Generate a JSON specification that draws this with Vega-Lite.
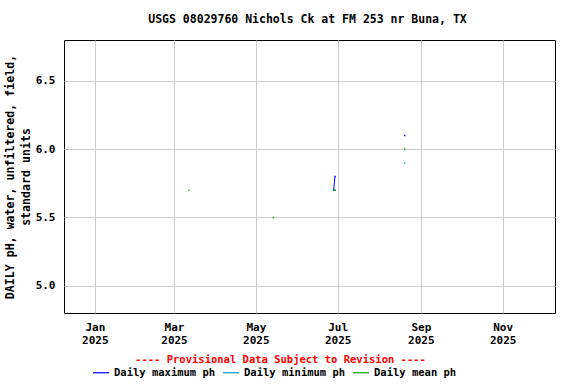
{
  "$schema": "https://vega.github.io/schema/vega-lite/v6.json",
  "autosize": "none",
  "width": 491,
  "height": 273,
  "padding": {"left": 64, "top": 40, "right": 21, "bottom": 71},
  "background": "white",
  "title": {
    "text": "USGS 08029760 Nichols Ck at FM 253 nr Buna, TX",
    "font": "DejaVu Sans Mono",
    "fontSize": 11.5,
    "fontWeight": "bold",
    "anchor": "middle",
    "offset": 15,
    "dx": -2,
    "color": "black"
  },
  "config": {
    "view": {"stroke": "black", "strokeWidth": 1},
    "font": "DejaVu Sans Mono"
  },
  "data": {
    "values": [
      {"date": "2025-06-28T00:00:00", "series": "Daily maximum ph", "run": "c", "value": 5.70},
      {"date": "2025-06-29T00:00:00", "series": "Daily maximum ph", "run": "c", "value": 5.80},
      {"date": "2025-08-20T00:00:00", "series": "Daily maximum ph", "run": "d", "value": 6.10},
      {"date": "2025-06-28T00:00:00", "series": "Daily minimum ph", "run": "c", "value": 5.70},
      {"date": "2025-06-29T00:00:00", "series": "Daily minimum ph", "run": "c", "value": 5.70},
      {"date": "2025-08-20T00:00:00", "series": "Daily minimum ph", "run": "d", "value": 5.90},
      {"date": "2025-03-12T00:00:00", "series": "Daily mean ph", "run": "a", "value": 5.70},
      {"date": "2025-05-14T00:00:00", "series": "Daily mean ph", "run": "b", "value": 5.50},
      {"date": "2025-06-28T00:00:00", "series": "Daily mean ph", "run": "c", "value": 5.70},
      {"date": "2025-06-29T00:00:00", "series": "Daily mean ph", "run": "c", "value": 5.70},
      {"date": "2025-08-20T00:00:00", "series": "Daily mean ph", "run": "d", "value": 6.00}
    ]
  },
  "encoding": {
    "x": {
      "field": "date",
      "type": "temporal",
      "scale": {
        "domain": [
          {"year": 2024, "month": 12, "date": 9},
          {"year": 2025, "month": 12, "date": 10}
        ]
      },
      "axis": {
        "values": [
          {"year": 2025, "month": 1, "date": 1},
          {"year": 2025, "month": 3, "date": 1},
          {"year": 2025, "month": 5, "date": 1},
          {"year": 2025, "month": 7, "date": 1},
          {"year": 2025, "month": 9, "date": 1},
          {"year": 2025, "month": 11, "date": 1}
        ],
        "labelExpr": "[timeFormat(datum.value, '%b'), timeFormat(datum.value, '%Y')]",
        "labelFont": "DejaVu Sans Mono",
        "labelFontSize": 11,
        "labelFontWeight": "bold",
        "labelColor": "black",
        "labelLineHeight": 13.7,
        "labelPadding": 8,
        "labelBaseline": "top",
        "ticks": false,
        "domain": false,
        "grid": true,
        "gridColor": "#cccccc",
        "gridWidth": 1,
        "title": "---- Provisional Data Subject to Revision ----",
        "titleFont": "DejaVu Sans Mono",
        "titleFontSize": 10.5,
        "titleFontWeight": "bold",
        "titleColor": "#ff0000",
        "titleX": 216,
        "titleY": 46,
        "titleAlign": "center",
        "titleBaseline": "middle"
      }
    },
    "y": {
      "field": "value",
      "type": "quantitative",
      "scale": {"domain": [4.8, 6.8], "nice": false, "zero": false},
      "axis": {
        "values": [5.0, 5.5, 6.0, 6.5],
        "format": ".1f",
        "ticks": false,
        "domain": false,
        "grid": true,
        "gridColor": "#cccccc",
        "gridWidth": 1,
        "labelFont": "DejaVu Sans Mono",
        "labelFontSize": 11,
        "labelFontWeight": "bold",
        "labelColor": "black",
        "labelPadding": 9,
        "title": ["DAILY pH, water, unfiltered, field,", "standard units"],
        "titleFont": "DejaVu Sans Mono",
        "titleFontSize": 11.6,
        "titleFontWeight": "bold",
        "titleColor": "black",
        "titlePadding": 4,
        "titleLineHeight": 16
      }
    },
    "detail": {"field": "run", "type": "nominal"}
  },
  "layer": [
    {
      "mark": {"type": "line", "strokeWidth": 1},
      "encoding": {
        "color": {
          "field": "series",
          "type": "nominal",
          "scale": {
            "domain": ["Daily maximum ph", "Daily minimum ph", "Daily mean ph"],
            "range": ["#0000ff", "#0096e0", "#00aa00"]
          },
          "legend": {
            "orient": "none",
            "legendX": 28,
            "legendY": 323.5,
            "direction": "horizontal",
            "title": null,
            "symbolType": "stroke",
            "symbolSize": 256,
            "symbolStrokeWidth": 1.2,
            "symbolOpacity": 1,
            "labelFont": "DejaVu Sans Mono",
            "labelFontSize": 10.5,
            "labelFontWeight": "bold",
            "labelColor": "black",
            "labelOffset": 4,
            "columnPadding": 4,
            "padding": 0
          }
        }
      }
    },
    {
      "mark": {"type": "point", "shape": "square", "filled": true, "size": 2, "opacity": 1, "strokeWidth": 0},
      "encoding": {
        "fill": {
          "field": "series",
          "type": "nominal",
          "scale": {
            "domain": ["Daily maximum ph", "Daily minimum ph", "Daily mean ph"],
            "range": ["#0000ff", "#0096e0", "#00aa00"]
          },
          "legend": null
        }
      }
    }
  ],
  "resolve": {"scale": {"fill": "independent"}}
}
